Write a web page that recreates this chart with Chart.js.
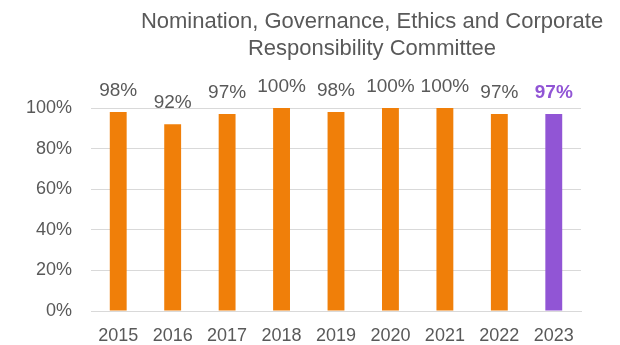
<!DOCTYPE html>
<html>
<head>
<meta charset="utf-8">
<script src="https://cdn.jsdelivr.net/npm/chart.js"></script>
<style>
  body { margin: 0; background: #fff; }
  .wrap { position: relative; width: 620px; height: 345px; }
  .title { position: absolute; left: 122px; width: 500px; top: 7px; text-align: center; white-space: nowrap;
           font-family: 'Liberation Sans', sans-serif; font-size: 22px; line-height: 27px; color: #595959; }
</style>
</head>
<body>
<div class="wrap">
  <canvas id="c" width="620" height="345"></canvas>
  <div class="title">Nomination, Governance, Ethics and Corporate<br>Responsibility Committee</div>
</div>
<script>
const years = ['2015', '2016', '2017', '2018', '2019', '2020', '2021', '2022', '2023'];
const attendance = [98, 92, 97, 100, 98, 100, 100, 97, 97];
const yTicks = [0, 20, 40, 60, 80, 100];

const ORANGE = '#f07f09';
const PURPLE = '#9155d5';
const GREY = '#595959';
const FONT = "'Liberation Sans', sans-serif";

const barColors = years.map((_, i) => i === years.length - 1 ? PURPLE : ORANGE);

// value labels above each bar
const valueLabels = {
  id: 'valueLabels',
  afterDatasetsDraw(chart) {
    const ctx = chart.ctx;
    const meta = chart.getDatasetMeta(0);
    ctx.save();
    ctx.textAlign = 'center';
    ctx.textBaseline = 'bottom';
    meta.data.forEach((bar, i) => {
      const last = i === meta.data.length - 1;
      ctx.font = (last ? 'bold ' : '') + '19px ' + FONT;
      ctx.fillStyle = last ? PURPLE : GREY;
      ctx.fillText(attendance[i] + '%', bar.x, bar.y - 12);
    });
    ctx.restore();
  }
};

new Chart(document.getElementById('c'), {
  type: 'bar',
  data: {
    labels: years,
    datasets: [{ data: attendance, backgroundColor: barColors, barPercentage: 0.62, categoryPercentage: 0.5 }]
  },
  options: {
    responsive: false,
    animation: false,
    layout: { padding: { left: 0, top: 108, right: 39, bottom: 0 } },
    plugins: { legend: { display: false }, tooltip: { enabled: false } },
    scales: {
      x: {
        grid: { display: false },
        border: { color: '#d9d9d9', width: 1 },
        ticks: { color: GREY, font: { family: FONT, size: 18 }, padding: 6 },
        afterFit(s) { s.height = 34; }
      },
      y: {
        min: 0, max: 100,
        afterBuildTicks(s) { s.ticks = yTicks.map(v => ({ value: v })); },
        grid: { color: '#d9d9d9', drawTicks: false },
        border: { display: false },
        ticks: { color: GREY, font: { family: FONT, size: 18 }, padding: 19, callback: v => v + '%' },
        afterFit(s) { s.width = 91; }
      }
    }
  },
  plugins: [valueLabels]
});
</script>
</body>
</html>
